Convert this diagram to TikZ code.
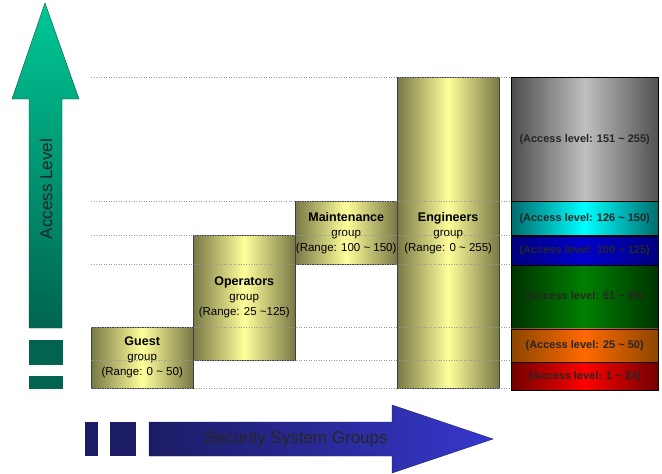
\documentclass[tikz,border=0pt]{standalone}
\usepackage{fontspec}
\setmainfont{Liberation Sans}
\usetikzlibrary{calc}
\definecolor{yeledge}{RGB}{120,120,70}
\definecolor{yelmid}{RGB}{255,255,155}
\definecolor{tealtop}{RGB}{0,200,150}
\definecolor{tealbot}{RGB}{0,100,80}
\definecolor{navyleft}{RGB}{28,28,100}
\definecolor{navyright}{RGB}{55,55,205}

\begin{document}
\begin{tikzpicture}[x=1pt,y=-1pt]
\tikzstyle{group}=[draw=black!75,left color=yeledge,right color=yeledge,middle color=yelmid,minimum width=102pt,inner sep=0pt,anchor=north west,align=center,font=\fontsize{11.5}{15}\selectfont]
\tikzstyle{level}=[draw=black,minimum width=147pt,inner sep=0pt,anchor=north west,text=black!85,font=\bfseries\fontsize{11}{13}\selectfont]
\tikzstyle{grid}=[dotted,gray!80,line width=0.5pt]
\tikzstyle{bigtext}=[font=\fontsize{17}{20}\selectfont]
\useasboundingbox (0,0) rectangle (662,474);
% ========= access level arrow
\draw [draw=tealbot!80!black,top color=tealtop,bottom color=tealbot]
  (45,3) -- (79,99) -- (62,99) -- (62,328) -- (29,328) -- (29,99) -- (12,99) -- cycle;
\fill [tealbot] (29,340) rectangle (63,365);
\fill [tealbot] (29,376) rectangle (63,389);
\node (acclabel) at (46,189) [bigtext,rotate=90,text=black!85] {Access Level};
% ========= groups arrow
\draw [draw=navyleft,left color=navyleft,right color=navyright]
  (149,422) -- (392,422) -- (392,405) -- (493,439) -- (392,473) -- (392,456) -- (149,456) -- cycle;
\fill [navyleft] (85,422) rectangle (98,456);
\fill [navyleft] (110,422) rectangle (136,456);
\node (grplabel) at (296,439) [bigtext,text=black!85] {Security System Groups};
% ========= group bars
\node (guest) at (91,327) [group,minimum height=61pt]
  {{\bfseries\fontsize{12.5}{15}\selectfont Guest}\\group\\(Range: 0 \textasciitilde{} 50)};
\node (oper) at (193,235) [group,minimum height=125pt]
  {{\bfseries\fontsize{12.5}{15}\selectfont Operators}\\group\\(Range: 25 \textasciitilde{}125)};
\node (maint) at (295,201) [group,minimum height=63pt]
  {{\bfseries\fontsize{12.5}{15}\selectfont Maintenance}\\group\\(Range: 100 \textasciitilde{} 150)};
\node (eng) at (397,77) [group,minimum height=311pt] {};
\node (englabel) at (eng.center |- maint.center) [align=center,font=\fontsize{11.5}{15}\selectfont]
  {{\bfseries\fontsize{12.5}{15}\selectfont Engineers}\\group\\(Range: 0 \textasciitilde{} 255)};
% ====== level guide lines
\foreach \yy in {77,201,235,264,327,360,388}
  \draw [grid] (91,\yy) -- (645,\yy);
% ====== access level column
\node (lvlA) at (511,77) [level,minimum height=124pt,left color=black!70,right color=black!68,middle color=black!25] {(Access level: 151 \textasciitilde{} 255)};
\node (lvlB) at (lvlA.south west) [level,minimum height=34pt,left color=teal!85!black,right color=teal!85!black,middle color=cyan] {(Access level: 126 \textasciitilde{} 150)};
\node (lvlC) at (lvlB.south west) [level,minimum height=29pt,left color=blue!50!black,right color=blue!50!black,middle color=blue!80!black] {(Access level: 100 \textasciitilde{} 125)};
\node (lvlD) at (lvlC.south west) [level,minimum height=63pt,left color=green!20!black,right color=green!20!black,middle color=green!50!black] {(Access level: 51 \textasciitilde{} 99)};
\node (lvlE) at (lvlD.south west) [level,minimum height=33pt,left color=orange!55!black,right color=orange!55!black,middle color={rgb,255:red,255;green,105;blue,0}] {(Access level: 25 \textasciitilde{} 50)};
\node (lvlF) at (lvlE.south west) [level,minimum height=28pt,left color=red!45!black,right color=red!45!black,middle color=red] {(Access level: 1 \textasciitilde{} 24)};
\end{tikzpicture}
\end{document}
